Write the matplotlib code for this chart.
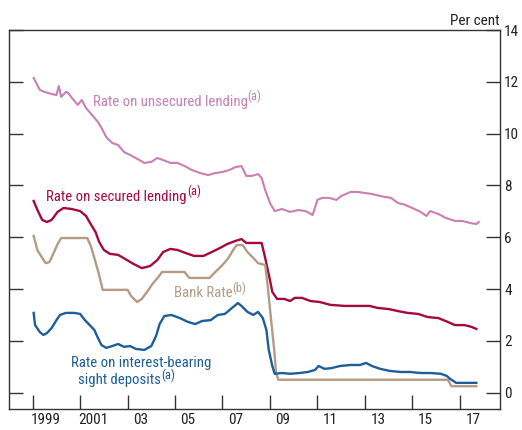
import numpy as np
from matplotlib import pyplot as plt

plt.switch_backend('agg')
plt.rcParams['font.family'] = ['Roboto Condensed', 'Open Sans', 'DejaVu Sans']

# 利率数据（年份, 百分比）
unsecured_x = [1999.04, 1999.3, 1999.5, 1999.8, 2000.0, 2000.1, 2000.2, 2000.4, 2000.5, 2000.65, 2000.9,
               2001.07, 2001.24, 2001.5, 2001.75, 2001.9, 2002.1, 2002.35, 2002.6, 2002.85, 2003.1, 2003.5,
               2003.7, 2004.0, 2004.25, 2004.5, 2004.8, 2005.1, 2005.4, 2005.7, 2006.05, 2006.4, 2006.7,
               2007.0, 2007.3, 2007.55, 2007.8, 2008.0, 2008.25, 2008.5, 2008.65, 2008.8, 2009.0, 2009.2,
               2009.5, 2009.85, 2010.2, 2010.5, 2010.8, 2011.0, 2011.2, 2011.5, 2011.8, 2012.0, 2012.4,
               2012.7, 2013.0, 2013.3, 2013.65, 2014.1, 2014.4, 2014.7, 2015.0, 2015.35, 2015.6, 2015.75,
               2016.1, 2016.4, 2016.8, 2017.1, 2017.45, 2017.7, 2017.8]
unsecured_y = [12.15, 11.69, 11.61, 11.53, 11.49, 11.84, 11.42, 11.61, 11.57, 11.38, 11.11,
               11.3, 11.0, 10.72, 10.45, 10.22, 9.87, 9.64, 9.56, 9.29, 9.18, 8.98,
               8.87, 8.91, 9.06, 8.98, 8.87, 8.87, 8.75, 8.6, 8.48, 8.4, 8.48,
               8.52, 8.6, 8.71, 8.75, 8.37, 8.37, 8.44, 8.29, 7.82, 7.32, 7.01,
               7.09, 6.98, 7.05, 7.01, 6.86, 7.44, 7.52, 7.52, 7.44, 7.59, 7.75,
               7.75, 7.71, 7.67, 7.59, 7.52, 7.32, 7.25, 7.13, 6.98, 6.82, 7.01,
               6.9, 6.75, 6.63, 6.63, 6.55, 6.51, 6.59]

secured_x = [1999.04, 1999.2, 1999.4, 1999.6, 1999.8, 2000.05, 2000.3, 2000.65, 2001.0, 2001.25, 2001.45,
             2001.65, 2001.8, 2002.0, 2002.25, 2002.6, 2002.9, 2003.25, 2003.6, 2003.95, 2004.25, 2004.5,
             2004.8, 2005.1, 2005.45, 2005.8, 2006.2, 2006.55, 2006.9, 2007.2, 2007.55, 2007.8, 2008.0,
             2008.35, 2008.65, 2008.8, 2009.0, 2009.1, 2009.3, 2009.6, 2009.85, 2010.05, 2010.35, 2010.7,
             2011.1, 2011.55, 2012.15, 2012.8, 2013.2, 2013.55, 2014.0, 2014.4, 2014.8, 2015.25, 2015.65,
             2016.1, 2016.5, 2016.8, 2017.2, 2017.5, 2017.7]
secured_y = [7.4, 7.05, 6.67, 6.59, 6.67, 6.98, 7.13, 7.09, 7.01, 6.82, 6.5,
             6.2, 5.82, 5.51, 5.36, 5.32, 5.16, 4.97, 4.81, 4.89, 5.12, 5.43,
             5.55, 5.51, 5.39, 5.28, 5.28, 5.43, 5.59, 5.74, 5.86, 5.93, 5.78,
             5.78, 5.78, 5.2, 4.35, 3.89, 3.62, 3.62, 3.54, 3.66, 3.66, 3.54,
             3.5, 3.39, 3.35, 3.35, 3.35, 3.27, 3.23, 3.15, 3.08, 3.04, 2.92,
             2.88, 2.73, 2.61, 2.61, 2.54, 2.46]

bank_x = [1999.04, 1999.2, 1999.4, 1999.55, 1999.7, 1999.9, 2000.05, 2000.2, 2001.3, 2001.45, 2001.6,
          2001.8, 2001.95, 2003.0, 2003.15, 2003.4, 2003.6, 2003.85, 2004.05, 2004.3, 2004.45, 2005.4,
          2005.6, 2006.45, 2006.7, 2007.0, 2007.25, 2007.45, 2007.6, 2007.85, 2008.05, 2008.3, 2008.5,
          2008.8, 2008.9, 2009.05, 2009.2, 2009.25, 2009.35, 2016.5, 2016.65, 2017.7]
bank_y = [6.05, 5.5, 5.2, 5.0, 5.04, 5.43, 5.74, 5.97, 5.97, 5.66, 5.2,
          4.54, 3.97, 3.97, 3.73, 3.5, 3.62, 3.93, 4.2, 4.47, 4.66, 4.66,
          4.43, 4.43, 4.66, 4.93, 5.2, 5.51, 5.7, 5.7, 5.43, 5.2, 5.0,
          4.93, 4.16, 2.8, 1.46, 0.8, 0.5, 0.5, 0.25, 0.25]

sight_x = [1999.04, 1999.1, 1999.3, 1999.45, 1999.6, 1999.8, 2000.0, 2000.15, 2000.4, 2000.75, 2001.0,
           2001.2, 2001.4, 2001.6, 2001.75, 2001.9, 2002.1, 2002.35, 2002.6, 2002.85, 2003.1, 2003.35,
           2003.7, 2004.0, 2004.2, 2004.35, 2004.55, 2004.85, 2005.2, 2005.55, 2005.85, 2006.15, 2006.5,
           2006.8, 2007.1, 2007.4, 2007.65, 2007.8, 2008.05, 2008.3, 2008.5, 2008.7, 2008.85, 2008.95,
           2009.1, 2009.2, 2009.5, 2009.85, 2010.25, 2010.6, 2010.9, 2011.05, 2011.3, 2011.6, 2011.95,
           2012.4, 2012.8, 2013.05, 2013.3, 2013.65, 2014.05, 2014.5, 2014.9, 2015.35, 2015.75, 2016.2,
           2016.45, 2016.6, 2016.85, 2017.25, 2017.7]
sight_y = [3.08, 2.61, 2.34, 2.23, 2.3, 2.5, 2.8, 3.0, 3.08, 3.08, 3.04,
           2.8, 2.61, 2.42, 2.11, 1.84, 1.73, 1.8, 1.88, 1.77, 1.8, 1.69,
           1.65, 1.8, 2.19, 2.65, 2.96, 3.0, 2.88, 2.73, 2.65, 2.77, 2.8,
           3.0, 3.04, 3.27, 3.46, 3.35, 3.12, 3.0, 3.12, 2.88, 2.42, 1.65,
           1.03, 0.73, 0.76, 0.73, 0.76, 0.8, 0.88, 1.03, 0.92, 0.95, 1.03,
           1.07, 1.07, 1.15, 1.03, 0.92, 0.84, 0.8, 0.8, 0.76, 0.76, 0.73,
           0.65, 0.53, 0.38, 0.38, 0.38]

year_ticks = list(range(1999, 2018, 2))
year_labels = ['1999', '2001', '03', '05', '07', '09', '11', '13', '15', '17']
y_ticks = list(range(0, 15, 2))

PINK = '#c97fb1'
CRIMSON = '#a6093d'
TAN = '#b39b85'
BLUE = '#1d5e9a'
FRAME = '#333333'
TXT = '#222222'

fig = plt.figure(figsize=(5.22, 4.30), dpi=100)
ax = fig.add_axes([0.0172, 0.0488, 0.9408, 0.8814])

ax.plot(unsecured_x, unsecured_y, color=PINK, lw=1.5, solid_joinstyle='round')
ax.plot(secured_x, secured_y, color=CRIMSON, lw=1.7, solid_joinstyle='round')
ax.plot(bank_x, bank_y, color=TAN, lw=1.7, solid_joinstyle='round')
ax.plot(sight_x, sight_y, color=BLUE, lw=1.7, solid_joinstyle='round')

ax.set_xlim(1998.0, 2018.7)
ax.set_ylim(-0.63, 14)

# 坐标轴
for sp in ax.spines.values():
    sp.set_color(FRAME)
    sp.set_linewidth(1.0)
ax.set_yticks(y_ticks)
ax.yaxis.tick_right()
ax.tick_params(axis='y', which='major', direction='in', length=10, width=1, color=FRAME,
               left=True, right=True, labelleft=False, labelright=True, labelsize=11, pad=3,
               labelcolor=TXT)
ax.set_xticks(year_ticks)
ax.set_xticklabels([])
ax.set_xticks([y + 0.55 for y in year_ticks], minor=True)
ax.set_xticklabels(year_labels, minor=True)
ax.tick_params(axis='x', which='major', direction='in', length=10, width=1, color=FRAME)
ax.tick_params(axis='x', which='minor', length=0, labelsize=11, pad=3, labelcolor=TXT)

ax.text(1.0, 1.0 + 5.5 / 379, 'Per cent', transform=ax.transAxes, ha='right', va='baseline',
        fontsize=11, color=TXT)


def label(x, y, s, sup, color):
    t = ax.text(x, y, s, color=color, fontsize=10.6, va='baseline')
    if sup:
        ax.annotate(sup, xy=(1.0, y), xycoords=(t, 'data'), xytext=(0, 4),
                    textcoords='offset points', va='baseline', color=color, fontsize=9)


# 标签
label(2001.53, 11.08, 'Rate on unsecured lending', '(a)', PINK)
label(1999.58, 7.41, 'Rate on secured lending', '(a)', CRIMSON)
label(2004.96, 3.68, 'Bank Rate', '(b)', TAN)
label(2000.6, 1.0, 'Rate on interest-bearing', None, BLUE)
label(2000.91, 0.32, 'sight deposits', '(a)', BLUE)

fig.savefig('out.png', dpi=100)
